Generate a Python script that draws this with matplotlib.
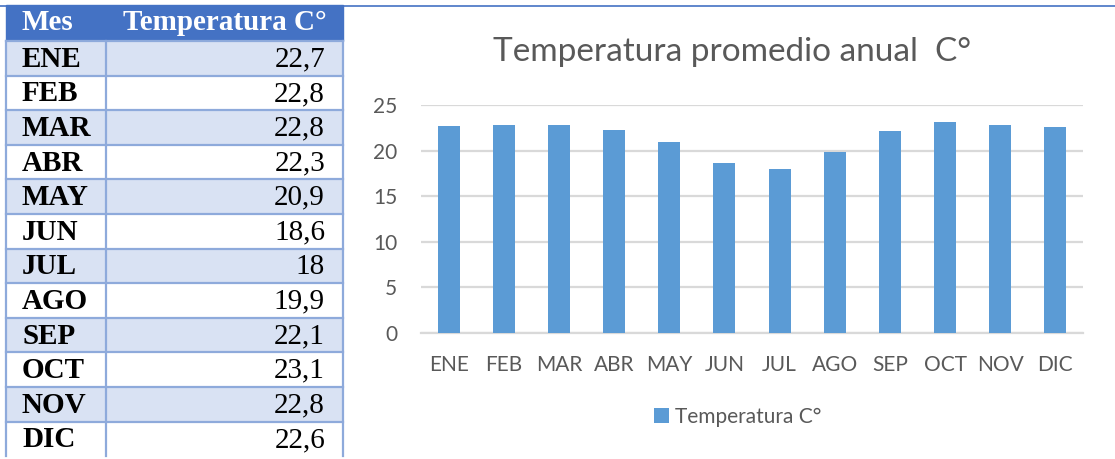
import matplotlib
matplotlib.use('Agg')
import matplotlib.pyplot as plt
from matplotlib.patches import Rectangle

## data
meses = ['ENE', 'FEB', 'MAR', 'ABR', 'MAY', 'JUN',
         'JUL', 'AGO', 'SEP', 'OCT', 'NOV', 'DIC']
temperaturas = [22.7, 22.8, 22.8, 22.3, 20.9, 18.6,
                18.0, 19.9, 22.1, 23.1, 22.8, 22.6]
temp_textos = ['22,7', '22,8', '22,8', '22,3', '20,9', '18,6',
               '18', '19,9', '22,1', '23,1', '22,8', '22,6']
encabezado = ['Mes', 'Temperatura C°']
titulo = 'Temperatura promedio anual  C°'
serie = 'Temperatura C°'
yticks = [0, 5, 10, 15, 20, 25]

## colors
azul_tabla = '#4472C4'
azul_claro = '#D9E2F3'
borde = '#8EAADB'
azul_barra = '#5B9BD5'
gris_texto = '#595959'
gris_grid = '#D9D9D9'

W, H = 1115, 459
fig = plt.figure(figsize=(W / 100, H / 100), dpi=100)

## table (pixel coordinates)
tab = fig.add_axes([0, 0, 1, 1])
tab.set_xlim(0, W)
tab.set_ylim(H, 0)
tab.axis('off')

x0, x1, x2 = 6, 106, 343
y0, alto_head, alto_fila = 5, 36, 34.6

tab.plot([0, W], [y0 + 0.5, y0 + 0.5], color=azul_tabla, lw=1.2, zorder=1)
tab.add_patch(Rectangle((x0, y0), x2 - x0, alto_head, color=azul_tabla, zorder=2))
tab.text(x0 + 16, y0 + alto_head / 2, encabezado[0], color='white', fontsize=21,
         fontweight='bold', family='Liberation Serif', ha='left', va='center', zorder=3)
tab.text(x2 - 16, y0 + alto_head / 2, encabezado[1], color='white', fontsize=21,
         fontweight='bold', family='Liberation Serif', ha='right', va='center', zorder=3)

for i, (mes, txt) in enumerate(zip(meses, temp_textos)):
    ytop = y0 + alto_head + i * alto_fila
    fondo = azul_claro if i % 2 == 0 else 'white'
    tab.add_patch(Rectangle((x0, ytop), x2 - x0, alto_fila, facecolor=fondo,
                            edgecolor='none', zorder=2))
    tab.plot([x0, x2], [ytop, ytop], color=borde, lw=1.6, zorder=3)
    ymid = ytop + alto_fila / 2 + 1
    tab.text(x0 + 16, ymid, mes, fontsize=21, fontweight='bold',
             family='Liberation Serif', ha='left', va='center', zorder=4)
    tab.text(x2 - 18, ymid, txt, fontsize=21,
             family='Liberation Serif', ha='right', va='center', zorder=4)

ybot = y0 + alto_head + len(meses) * alto_fila
for xv in [x0, x1, x2]:
    tab.plot([xv, xv], [y0 + alto_head, ybot], color=borde, lw=1.6, zorder=3)

## chart
ax = fig.add_axes([421 / W, 1 - 333 / H, 662 / W, 228 / H])
ax.set_facecolor('none')
x = range(len(meses))
ax.bar(x, temperaturas, width=0.4, color=azul_barra, label=serie, zorder=3)
ax.set_xlim(-0.5, len(meses) - 0.5)
ax.set_ylim(0, 25)
ax.set_yticks(yticks)
ax.set_xticks(list(x))
ax.set_xticklabels(meses)
ax.grid(axis='y', color=gris_grid, lw=1.6, zorder=0)
for s in ['top', 'right', 'left']:
    ax.spines[s].set_visible(False)
ax.spines['bottom'].set_color(gris_grid)
ax.spines['bottom'].set_linewidth(1.6)
ax.tick_params(length=0, labelsize=15, labelcolor=gris_texto)
ax.tick_params(axis='y', pad=17)
ax.tick_params(axis='x', pad=16)
for lab in ax.get_xticklabels() + ax.get_yticklabels():
    lab.set_family('Lato')

fig.text(732 / W, 1 - 52 / H, titulo, fontsize=24, color=gris_texto,
         family='Lato', ha='center', va='center')

fig.legend(loc='center', bbox_to_anchor=(738 / W, 1 - 417 / H), frameon=False,
           handlelength=0.7, handleheight=0.7, handletextpad=0.3,
           prop={'family': 'Lato', 'size': 15}, labelcolor=gris_texto)

fig.savefig('out.png', dpi=100)
